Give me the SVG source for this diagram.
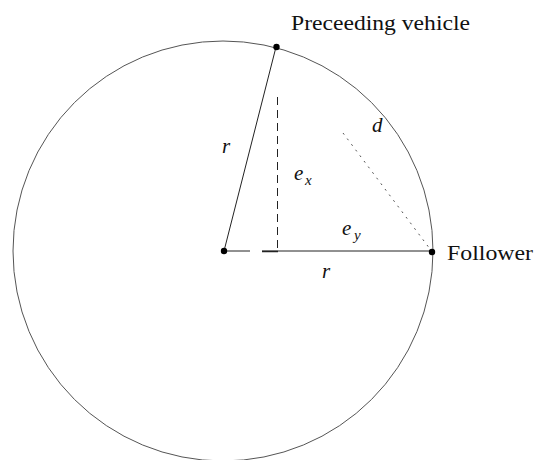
<svg xmlns="http://www.w3.org/2000/svg" width="534" height="460" viewBox="0 0 534 460">
<style>
.ln{stroke:#222;stroke-width:1;fill:none}
.circ{stroke:#555;stroke-width:1;fill:none}
.dash{stroke:#222;stroke-width:1;stroke-dasharray:8 5;fill:none}
.dot{stroke:#555;stroke-width:1;stroke-dasharray:2 5;fill:none}
text{font-family:'Liberation Serif','Times New Roman',Times,'DejaVu Serif',serif;fill:#111}
.lbl{font-size:21px}
.math{font-style:italic;font-size:21px}
.sub{font-style:italic;font-size:15px}
.pt{fill:#000}
</style>
<g id="connectors">
<circle class="circ" cx="223" cy="251" r="210"/>
<line class="ln" x1="276" y1="47" x2="224" y2="251"/>
<line class="ln" x1="224" y1="251" x2="250" y2="251"/>
<line class="ln" x1="262" y1="251" x2="432" y2="251"/>
<line class="ln" x1="262" y1="251.5" x2="278" y2="251.5" style="stroke-width:1.5"/>
<line class="dash" x1="277.5" y1="97" x2="277.5" y2="251"/>
<line class="dot" x1="343" y1="133" x2="430" y2="249"/>
</g>
<g id="center">
<circle class="pt" cx="224" cy="251" r="3.2"/>
</g>
<g id="preceeding">
<circle class="pt" cx="276.5" cy="47" r="3.2"/>
<text class="lbl" x="291" y="30" textLength="179" lengthAdjust="spacingAndGlyphs">Preceeding vehicle</text>
</g>
<g id="follower">
<circle class="pt" cx="432" cy="252" r="3.2"/>
<text class="lbl" x="447" y="260" textLength="86" lengthAdjust="spacingAndGlyphs">Follower</text>
</g>
<g id="labels">
<text class="math" x="222" y="153">r</text>
<text class="math" x="294" y="180">e</text><text class="sub" x="305" y="185">x</text>
<text class="math" x="372" y="132">d</text>
<text class="math" x="342" y="235">e</text><text class="sub" x="354" y="240">y</text>
<text class="math" x="322" y="278">r</text>
</g>
</svg>
